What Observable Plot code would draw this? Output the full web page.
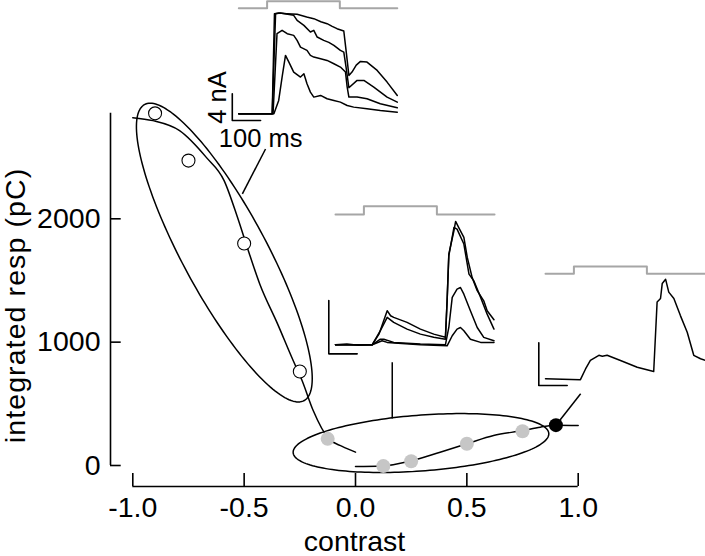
<!DOCTYPE html>
<html><head><meta charset="utf-8">
<script src="https://cdn.jsdelivr.net/npm/d3@7"></script>
<script src="https://cdn.jsdelivr.net/npm/@observablehq/plot@0.6"></script>
<style>
body{margin:0;background:#fff;}
#chart{position:relative;width:705px;height:556px;overflow:hidden;}
#chart svg{position:absolute;left:0;top:0;}
</style></head><body><div id="chart"></div>
<script>
// ---------- main chart data ----------
const xTicks = [-1, -0.5, 0, 0.5, 1];
const yTicks = [0, 1000, 2000];
const xLabel = "contrast";
const yLabel = "integrated resp (pC)";
const yAxisTop = 2855;

const negContrast = [-0.9, -0.75, -0.5, -0.25];
const negResp = [2855, 2472, 1800, 762];
const posContrast = [-0.125, 0.125, 0.25, 0.5, 0.75];
const posResp = [216, -5, 35, 176, 278];
const refContrast = [0.9];
const refResp = [327];

const fitNegX = [-1.0, -0.91, -0.79, -0.67, -0.59, -0.53, -0.49, -0.43, -0.35, -0.28, -0.24, -0.19, -0.12, -0.06, 0];
const fitNegY = [2820, 2796, 2715, 2498, 2310, 2012, 1790, 1472, 1148, 851, 689, 446, 216, 155, 108];
const fitPosX = [0, 0.12, 0.25, 0.38, 0.5, 0.62, 0.75, 0.83, 0.9, 1.0];
const fitPosY = [-8, -4, 38, 108, 176, 243, 283, 311, 327, 325];

// ellipses: centre and two conjugate semi-diameters (data units)
const ellipseNeg = {cx: -0.589, cy: 1726, ux: 0.2126, uy: 0, vx: -0.3326, vy: 1211};
const ellipsePos = {cx: 0.294, cy: 182, ux: 0.574, uy: 74.6, vx: 0, vy: 227};

// leader lines from groups to insets
const leaderX1 = [-0.508, 0.165, 0.9];
const leaderY1 = [2202, 381, 327];
const leaderX2 = [-0.404, 0.165, 1.011];
const leaderY2 = [2566, 837, 581];

// ---------- inset data (time ms, current) ----------
const stimTimes = [0, 100, 357, 560];

const highA = [[0,0],[118,0],[126,15],[141,15.1],[170,15],[206,14.9],[240,14.5],[265,14.25],[290,13.8],[312,13.5],[330,13.1],[347,12.75],[371,12.4],[379,9.5],[389,5.75],[400,6.25],[415,7.3],[430,7.85],[453,7.75],[489,6.5],[524,4.75],[560,2.75]];
const highB = [[0,0],[118,0],[130,15],[147,15.1],[194,14.75],[206,14],[230,13.25],[253,12.25],[265,12.5],[277,11.5],[300,11],[318,10.7],[336,10.25],[359,9.5],[371,9.25],[379,7],[389,3.9],[418,5],[442,5],[477,4],[524,2.5],[560,1.75]];
const highC = [[0,0],[121,0],[135,12],[153,12.5],[171,12],[194,11.75],[206,11],[218,10],[241,9.5],[253,8.75],[265,8.5],[289,8.25],[312,8],[336,7.5],[359,7],[377,6.25],[383,4],[389,2.5],[418,2.5],[453,2.25],[500,1.5],[560,0.9]];
const highD = [[0,0],[124,0],[141,2],[153,5.5],[165,8.75],[177,7.75],[194,6.25],[218,5.5],[230,6],[241,4.5],[253,3.25],[265,2.5],[289,2.75],[312,2.25],[336,2],[359,1.75],[383,1.25],[406,1],[453,0.75],[500,0.5],[560,0.25]];

const midA = [[0,0],[40,0.03],[80,-0.02],[129,0],[153,0.4],[182,1.28],[194,1.09],[205,1.03],[252,0.84],[299,0.59],[346,0.4],[387,0.28],[393,1.65],[399,3.4],[417,4.28],[423,4.63],[434,4.4],[452,4.03],[464,3.28],[481,2.53],[499,2.03],[522,1.65],[534,1.28],[558,0.94]];
const midB = [[0,0],[129,0],[158,0.53],[182,1.03],[205,0.84],[252,0.59],[299,0.4],[346,0.28],[387,0.21],[393,1.65],[399,3.34],[417,4.4],[428,4.34],[452,3.78],[470,2.65],[487,2.4],[511,1.78],[534,1.15],[558,0.59]];
const midC = [[0,0],[129,0],[158,0.21],[170,0.21],[205,0.09],[299,0.03],[387,0],[399,0.65],[411,1.78],[428,2.09],[440,2.15],[452,1.9],[475,1.28],[499,0.65],[522,0.28],[558,0.15]];
const midD = [[0,0],[129,0],[164,0.15],[182,0.09],[299,0],[393,-0.04],[411,0.34],[428,0.59],[440,0.65],[452,0.53],[475,0.21],[511,0.09],[558,0.09]];

const lowA = [[0,0],[60,-0.01],[123,-0.02],[141,0.23],[158,0.43],[188,0.55],[200,0.53],[217,0.55],[264,0.43],[323,0.27],[381,0.17],[393,1.8],[405,1.88],[411,2.23],[423,2.33],[434,2.03],[452,1.88],[475,1.48],[499,1.09],[522,0.55],[546,0.47],[563,0.43]];

// ---------- rendering ----------
const FONT = "'Liberation Sans', Arial, Helvetica, sans-serif";
const pairs = (xs, ys) => xs.map((x, i) => [x, ys[i]]);
function ellipsePoints(e) {
  const pts = [];
  for (let k = 0; k <= 180; k++) {
    const a = 2 * Math.PI * k / 180;
    pts.push([e.cx + Math.cos(a) * e.ux + Math.sin(a) * e.vx, e.cy + Math.cos(a) * e.uy + Math.sin(a) * e.vy]);
  }
  return pts;
}
const X = d => d[0], Y = d => d[1];
const leaders = leaderX1.map((x, i) => ({x1: x, y1: leaderY1[i], x2: leaderX2[i], y2: leaderY2[i]}));

const main = Plot.plot({
  width: 705, height: 556,
  marginLeft: 110, marginRight: 107, marginTop: 124, marginBottom: 70,
  style: {fontFamily: FONT, fontSize: "28.5px", background: "white", overflow: "visible"},
  x: {domain: [-1, 1], range: [132.3, 577.7]},
  y: {domain: [0, 2000], range: [465, 218.3]},
  marks: [
    Plot.ruleY([0], {x1: () => xTicks[0], x2: () => xTicks[xTicks.length - 1], dy: 21, strokeWidth: 1.6}),
    Plot.ruleX([xTicks[0]], {x: d => d, y1: () => 0, y2: () => yAxisTop, dx: -22.3, strokeWidth: 1.6}),
    Plot.axisX(xTicks, {anchor: "bottom", tickSize: -13, tickPadding: 23, tickFormat: d => d.toFixed(1), label: null, strokeWidth: 1.6, fontSize: 28.5}),
    Plot.axisY(yTicks, {anchor: "left", tickSize: -10.7, tickPadding: 20.7, tickFormat: d => String(d), label: null, strokeWidth: 1.6, fontSize: 28.5}),
    Plot.text([xLabel], {text: d => d, frameAnchor: "bottom", dy: 44.5, lineAnchor: "top", textAnchor: "middle", fontSize: 28.5}),
    Plot.text([yLabel], {text: d => d, frameAnchor: "left", rotate: -90, dx: -105.4, lineAnchor: "top", textAnchor: "middle", fontSize: 28.5}),
    Plot.line(ellipsePoints(ellipseNeg), {x: X, y: Y, stroke: "black", strokeWidth: 1.5}),
    Plot.line(ellipsePoints(ellipsePos), {x: X, y: Y, stroke: "black", strokeWidth: 1.5}),
    Plot.line(pairs(fitNegX, fitNegY), {x: X, y: Y, curve: "monotone-x", stroke: "black", strokeWidth: 1.5}),
    Plot.line(pairs(fitPosX, fitPosY), {x: X, y: Y, curve: "monotone-x", stroke: "black", strokeWidth: 1.5}),
    Plot.link(leaders, {x1: "x1", y1: "y1", x2: "x2", y2: "y2", stroke: "black", strokeWidth: 1.5}),
    Plot.dot(pairs(negContrast, negResp), {x: X, y: Y, r: 6.5, fill: "white", stroke: "black", strokeWidth: 1.1}),
    Plot.dot(pairs(posContrast, posResp), {x: X, y: Y, r: 7, fill: "#c6c6c6", stroke: "none"}),
    Plot.dot(pairs(refContrast, refResp), {x: X, y: Y, r: 7, fill: "black", stroke: "none"})
  ]
});
d3.select(main).selectAll("text").filter(function () { return this.textContent === yLabel; }).attr("letter-spacing", "1.1px");
document.getElementById("chart").appendChild(main);

function stimPoints(levels) {
  const [t0, on, off, end] = stimTimes;
  const [lo, hi] = levels;
  return [[t0, lo], [on, lo], [on, hi], [off, hi], [off, lo], [end, lo]];
}
function barPoints(b) {
  return [[b.t, b.i + b.di], [b.t, b.i], [b.t + b.dt, b.i]];
}
function inset(cfg) {
  const marks = [
    Plot.line(stimPoints(cfg.stim), {x: X, y: Y, stroke: "#a6a6a6", strokeWidth: 2}),
    ...cfg.traces.map(tr => Plot.line(tr, {x: X, y: Y, stroke: "black", strokeWidth: 1.5, strokeLinejoin: "round"})),
    Plot.line(barPoints(cfg.bar), {x: X, y: Y, stroke: "black", strokeWidth: 1.6})
  ];
  if (cfg.labels) {
    const b = cfg.bar;
    marks.push(Plot.text([cfg.labels[0]], {text: d => d, x: () => b.t, y: () => b.i + b.di / 2, rotate: -90, dx: -24.8, dy: -9.6, lineAnchor: "top", textAnchor: "middle", fontSize: 25.5}));
    marks.push(Plot.text([cfg.labels[1]], {text: d => d, x: () => b.t + b.dt, y: () => b.i, dy: 8.5, lineAnchor: "top", textAnchor: "middle", fontSize: 25.5}));
  }
  return Plot.plot({
    width: 705, height: 556, margin: 0,
    style: {fontFamily: FONT, fontSize: "25.5px", background: "none", overflow: "visible"},
    x: {domain: [0, 100], range: cfg.xRange, axis: null},
    y: {domain: [0, cfg.unit], range: cfg.yRange, axis: null},
    marks
  });
}

const insets = [
  {xRange: [238.3, 266.6], yRange: [113.3, 86.6], unit: 4, stim: [15.8, 16.85],
   bar: {t: -23, i: -1, dt: 100, di: 4}, traces: [highA, highB, highC, highD], labels: ["4 nA", "100 ms"]},
  {xRange: [335, 363.4], yRange: [344.3, 291.0], unit: 2, stim: [4.89, 5.2],
   bar: {t: -23.6, i: -0.34, dt: 100, di: 2}, traces: [midA, midB, midC, midD]},
  {xRange: [545, 573.4], yRange: [378.3, 335.6], unit: 1, stim: [2.46, 2.63],
   bar: {t: -23.6, i: -0.157, dt: 100, di: 1}, traces: [lowA]}
];
for (const cfg of insets) document.getElementById("chart").appendChild(inset(cfg));
</script></body></html>
